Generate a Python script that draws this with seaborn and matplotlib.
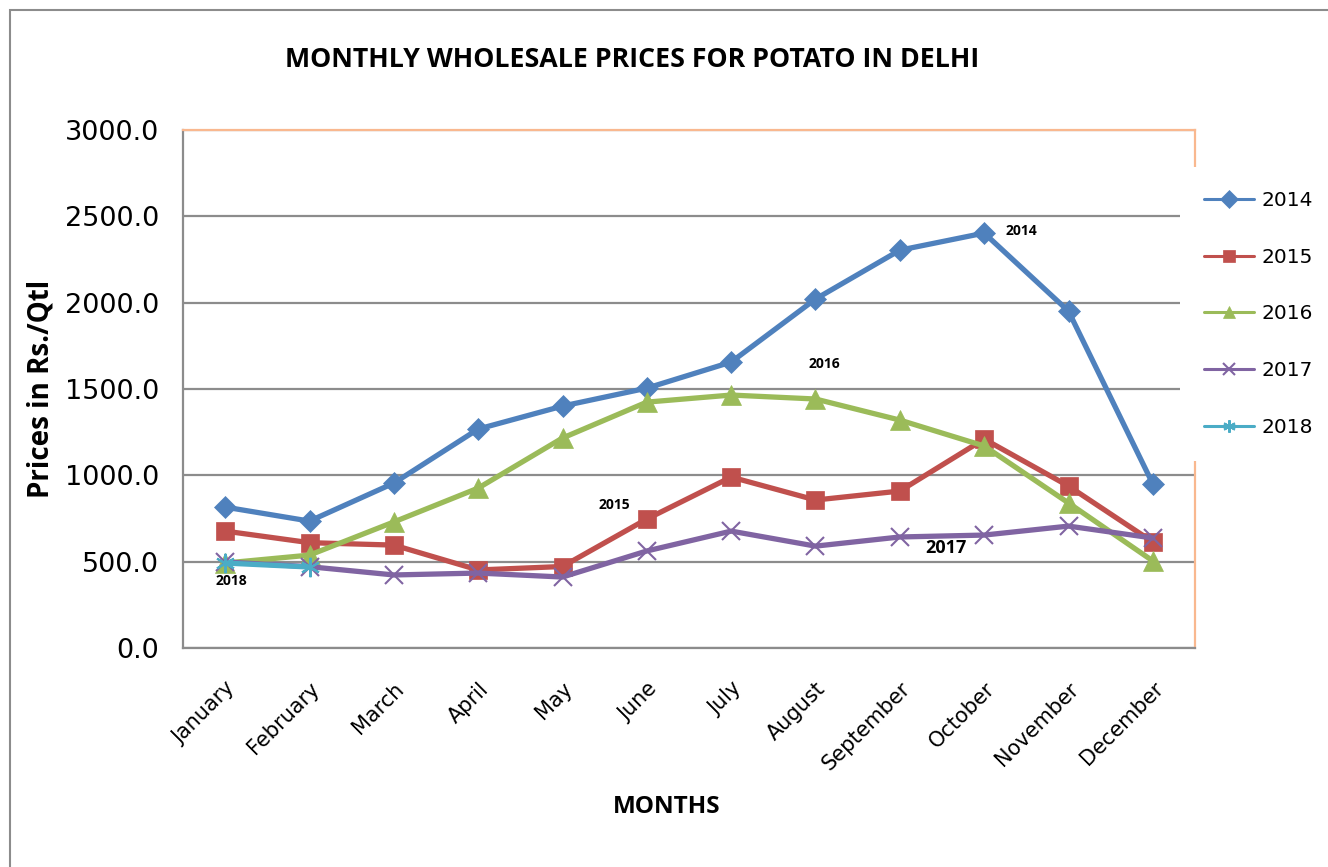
import matplotlib
matplotlib.use("Agg")
import matplotlib.pyplot as plt
import seaborn as sns
import pandas as pd
from matplotlib.patches import Rectangle

months = ["January", "February", "March", "April", "May", "June", "July",
          "August", "September", "October", "November", "December"]
p2014 = [816, 735, 955, 1268, 1401, 1505, 1656, 2021, 2304, 2403, 1951, 950]
p2015 = [677, 610, 596, 452, 472, 747, 990, 857, 909, 1210, 938, 614]
p2016 = [492, 538, 730, 926, 1216, 1424, 1465, 1442, 1320, 1170, 840, 504]
p2017 = [498, 471, 423, 434, 411, 562, 677, 590, 643, 654, 706, 637]
p2018 = [492, 469]
years = ["2014", "2015", "2016", "2017", "2018"]
yticks = [0, 500, 1000, 1500, 2000, 2500, 3000]

series = {"2014": p2014, "2015": p2015, "2016": p2016, "2017": p2017, "2018": p2018}
rows = []
for y in years:
    for i, v in enumerate(series[y]):
        rows.append({"Month": i, "Price": v, "Year": y})
df = pd.DataFrame(rows)

colors = {"2014": "#4F81BD", "2015": "#C0504D", "2016": "#9BBB59",
          "2017": "#8064A2", "2018": "#4BACC6"}
markers = {"2014": "D", "2015": "s", "2016": "^", "2017": "x", "2018": (6, 2, 0)}
msizes = {"2014": 11, "2015": 13, "2016": 14, "2017": 13, "2018": 14}

sns.set_style("white")
plt.rcParams['font.family'] = ['DejaVu Sans']
plt.rcParams['text.color'] = 'black'
plt.rcParams['axes.labelcolor'] = 'black'
plt.rcParams['xtick.color'] = 'black'
plt.rcParams['ytick.color'] = 'black'

fig = plt.figure(figsize=(13.28, 8.67), dpi=100)
fig.patches.append(Rectangle((10/1328, -0.1), 1.2, 1 - 10/867 + 0.1,
                             transform=fig.transFigure, fill=False,
                             edgecolor="#8c8c8c", lw=1.5))
ax = fig.add_axes([183/1328, 1 - 648/867, 1012/1328, 518/867])

for y in years:
    sub = df[df["Year"] == y]
    sns.lineplot(data=sub, x="Month", y="Price", ax=ax, color=colors[y],
                 lw=3.8, marker=markers[y], markersize=msizes[y],
                 markeredgecolor=colors[y], markeredgewidth=1.5 if y in ("2017", "2018") else 0.5,
                 label=y, legend=False, zorder=3)

ax.set_xlim(-0.5, 11.5)
ax.set_ylim(0, 3000)
ax.set_yticks(yticks)
ax.set_yticklabels([f"{v:.1f}" for v in yticks], fontsize=19.5)
ax.set_xticks(range(12))
ax.set_xticklabels(months, fontsize=15, rotation=45, ha="right",
                   rotation_mode="anchor")
ax.tick_params(axis="x", length=0, pad=22)
ax.tick_params(axis="y", length=0, pad=17)
ax.grid(axis="y", color="#8c8c8c", lw=1.6)
ax.set_axisbelow(True)
for s in ["left", "bottom"]:
    ax.spines[s].set_color("#8c8c8c")
    ax.spines[s].set_linewidth(1.6)
for s in ["top", "right"]:
    ax.spines[s].set_color("#F9B88F")
    ax.spines[s].set_linewidth(1.6)

ax.set_xlabel("MONTHS", fontsize=17.5, fontweight="bold", family="Open Sans")
ax.xaxis.set_label_coords((667 - 183) / 1012, -(795 - 648) / 518)
ax.set_ylabel("Prices in Rs./Qtl", fontsize=20, fontweight="bold", family="Open Sans")
ax.yaxis.set_label_coords(-(183 - 56) / 1012, 0.5)
fig.text(632/1328, 1 - 60/867, "MONTHLY WHOLESALE PRICES FOR POTATO IN DELHI",
         ha="center", va="center", fontsize=19.3, fontweight="bold", family="Open Sans")

ann = [("2014", 9.44, 2415, 10), ("2015", 4.61, 828, 10), ("2016", 7.10, 1644, 10),
       ("2017", 8.55, 579, 13), ("2018", 0.07, 388, 10)]
for t, xx, yy, fs in ann:
    ax.text(xx, yy, t, ha="center", va="center", fontsize=fs, fontweight="bold", family="Open Sans")

handles, labels = ax.get_legend_handles_labels()
leg = ax.legend(handles, labels, loc="center left", bbox_to_anchor=(1.0 - 0.015, 0.645),
                frameon=True, fontsize=14.5, handlelength=2.5, labelspacing=1.87,
                borderpad=1.2, handletextpad=0.35, borderaxespad=0)
leg.get_frame().set_facecolor("white")
leg.get_frame().set_edgecolor("none")
leg.get_frame().set_alpha(1)
for h in leg.legend_handles:
    h.set_linewidth(2.2)
    h.set_markersize(9)

fig.savefig("out.png", dpi=100)
